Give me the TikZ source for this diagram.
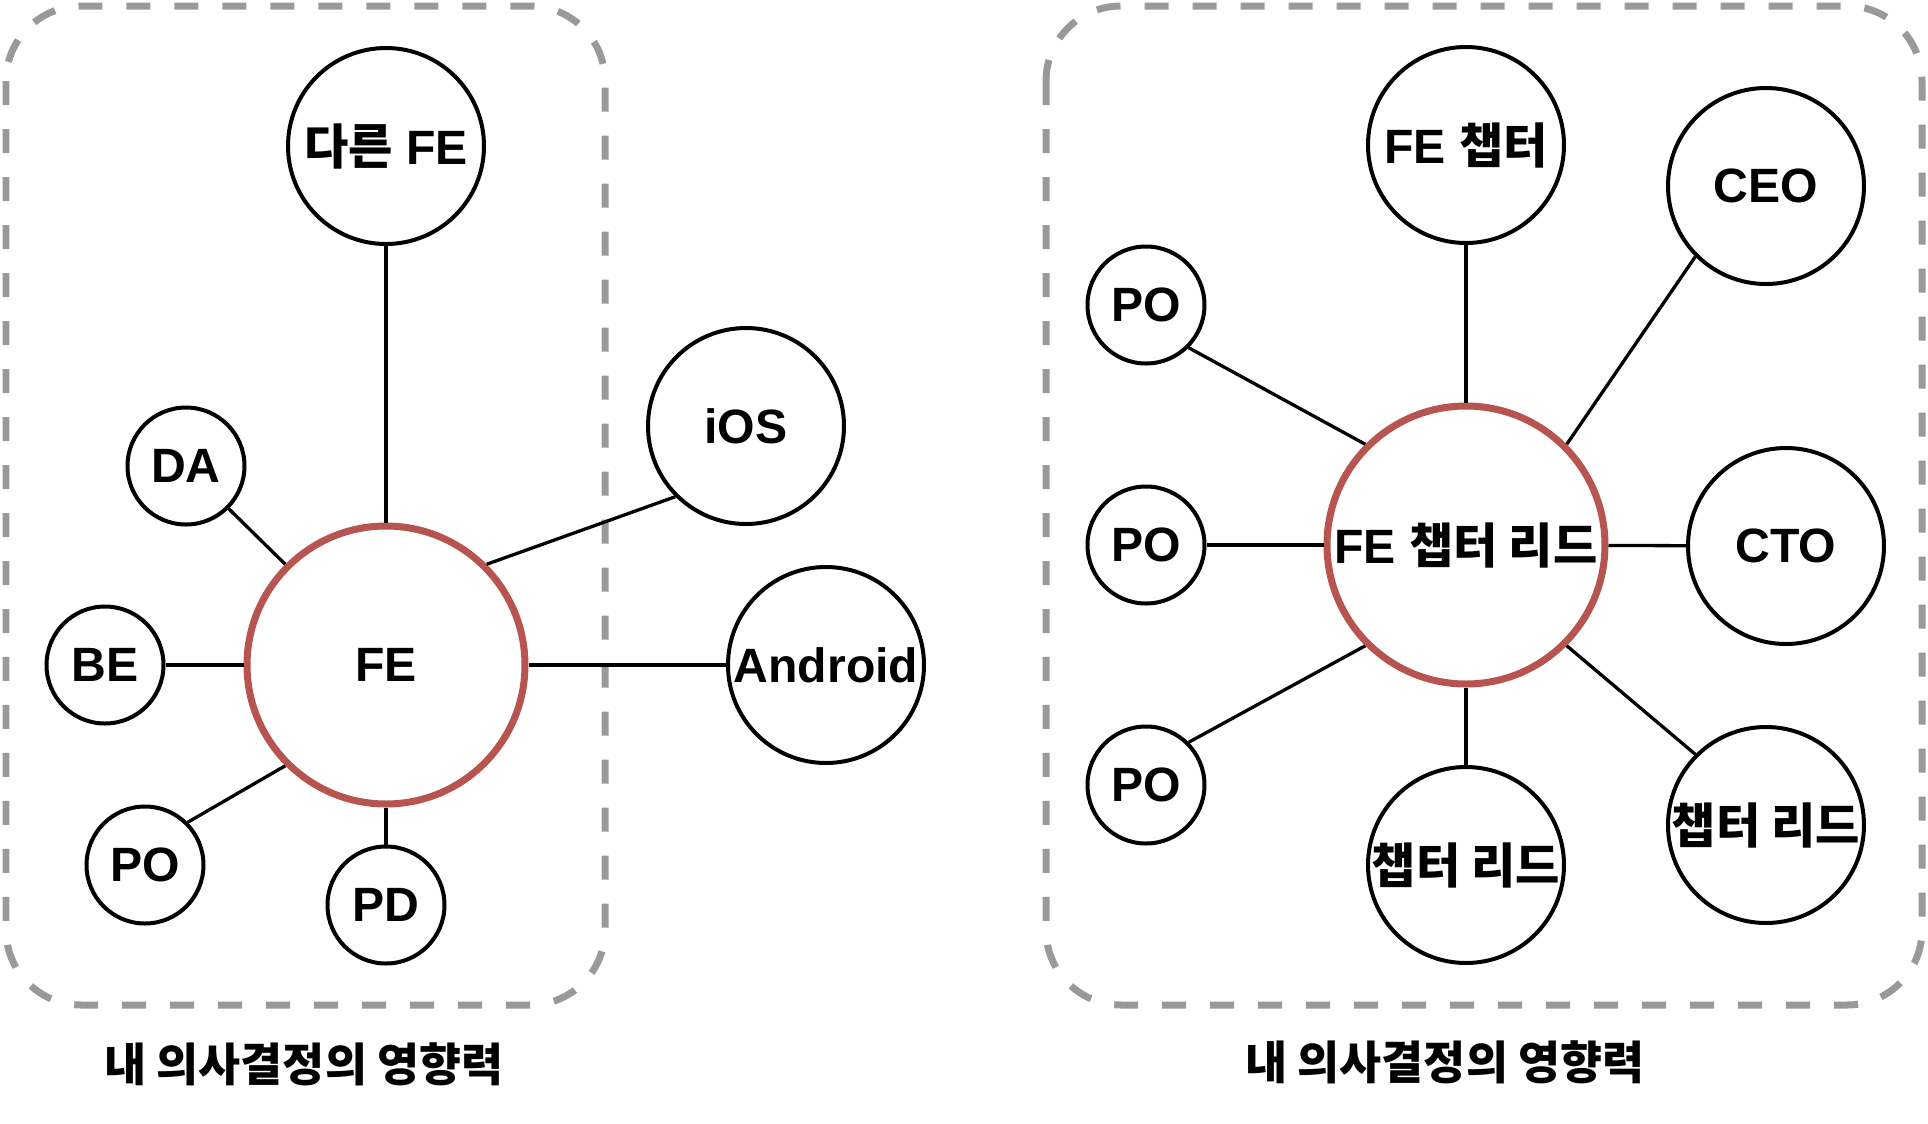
\documentclass[tikz,border=0pt]{standalone}
\usepackage{fontspec}
\setmainfont{Liberation Sans}
\newfontfamily\kr{Noto Sans CJK KR Black}[BoldFont={Noto Sans CJK KR Black}]
\usetikzlibrary{positioning}
\definecolor{leadred}{RGB}{184,84,80}
\definecolor{boxgray}{RGB}{153,153,153}

\begin{document}
\begin{tikzpicture}[x=0.1mm, y=-0.1mm,
    font=\fontsize{13.7}{16}\selectfont\bfseries,
    roundnode/.style={circle, draw=black, line width=0.4mm, fill=white, inner sep=0pt, minimum size=11.7mm},
    bignode/.style={roundnode, minimum size=19.6mm},
    mainnode/.style={roundnode, draw=leadred, line width=0.7mm, minimum size=27.8mm},
    link/.style={line width=0.33mm},
    groupbox/.style={draw=boxgray, line width=0.7mm, dash pattern=on 2.4mm off 2.4mm, rounded corners=7.5mm},
    caption/.style={font=\fontsize{13}{15}\selectfont\kr\bfseries}
]
    \useasboundingbox (0,0) rectangle (1928,1124);

    % My decision scope as FE
    % - [Group box]
    \draw [groupbox] (6,6) rectangle (605,1005);
    % - [Nodes]
    \node at (386,665) [mainnode](fe){FE};
    \node at (386,146) [bignode](otherfe){{\kr 다른} FE};
    \node at (186,466) [roundnode](da){DA};
    \node at (105,665) [roundnode](be){BE};
    \node at (145,865) [roundnode](po){PO};
    \node at (386,905) [roundnode](pd){PD};
    \node at (746,426) [bignode](ios){iOS};
    \node at (826,665) [bignode](android){Android};
    % -- Connect to FE
    \draw [link] (otherfe) -- (fe);
    \draw [link] (da.-45) -- (fe.135);
    \draw [link] (be) -- (fe);
    \draw [link] (po.45) -- (fe.225);
    \draw [link] (pd) -- (fe);
    \draw [link] (fe.45) -- (ios.225);
    \draw [link] (fe) -- (android);
    % - [Caption]
    \node at (304,1064) [caption](capleft){내 의사결정의 영향력};


    % My decision scope as FE chapter lead
    % - [Group box]
    \draw [groupbox] (1046,6) rectangle (1922,1005);
    % - [Nodes]
    \node at (1466,545) [mainnode](lead){FE {\kr 챕터 리드}};
    \node at (1466,145) [bignode](chapter){FE {\kr 챕터}};
    \node at (1766,186) [bignode](ceo){CEO};
    \node at (1786,546) [bignode](cto){CTO};
    \node at (1766,825) [bignode](leadright){\kr 챕터 리드};
    \node at (1466,865) [bignode](leadbottom){\kr 챕터 리드};
    \node at (1146,305) [roundnode](poa){PO};
    \node at (1146,545) [roundnode](pob){PO};
    \node at (1146,785) [roundnode](poc){PO};
    % -- Connect to FE chapter lead
    \draw [link] (chapter) -- (lead);
    \draw [link] (lead.45) -- (ceo.225);
    \draw [link] (lead) -- (cto);
    \draw [link] (lead.-45) -- (leadright.135);
    \draw [link] (lead) -- (leadbottom);
    \draw [link] (poa.-45) -- (lead.135);
    \draw [link] (pob) -- (lead);
    \draw [link] (poc.45) -- (lead.225);
    % - [Caption]
    \node at (1445,1062) [caption](capright){내 의사결정의 영향력};

\end{tikzpicture}
\end{document}
